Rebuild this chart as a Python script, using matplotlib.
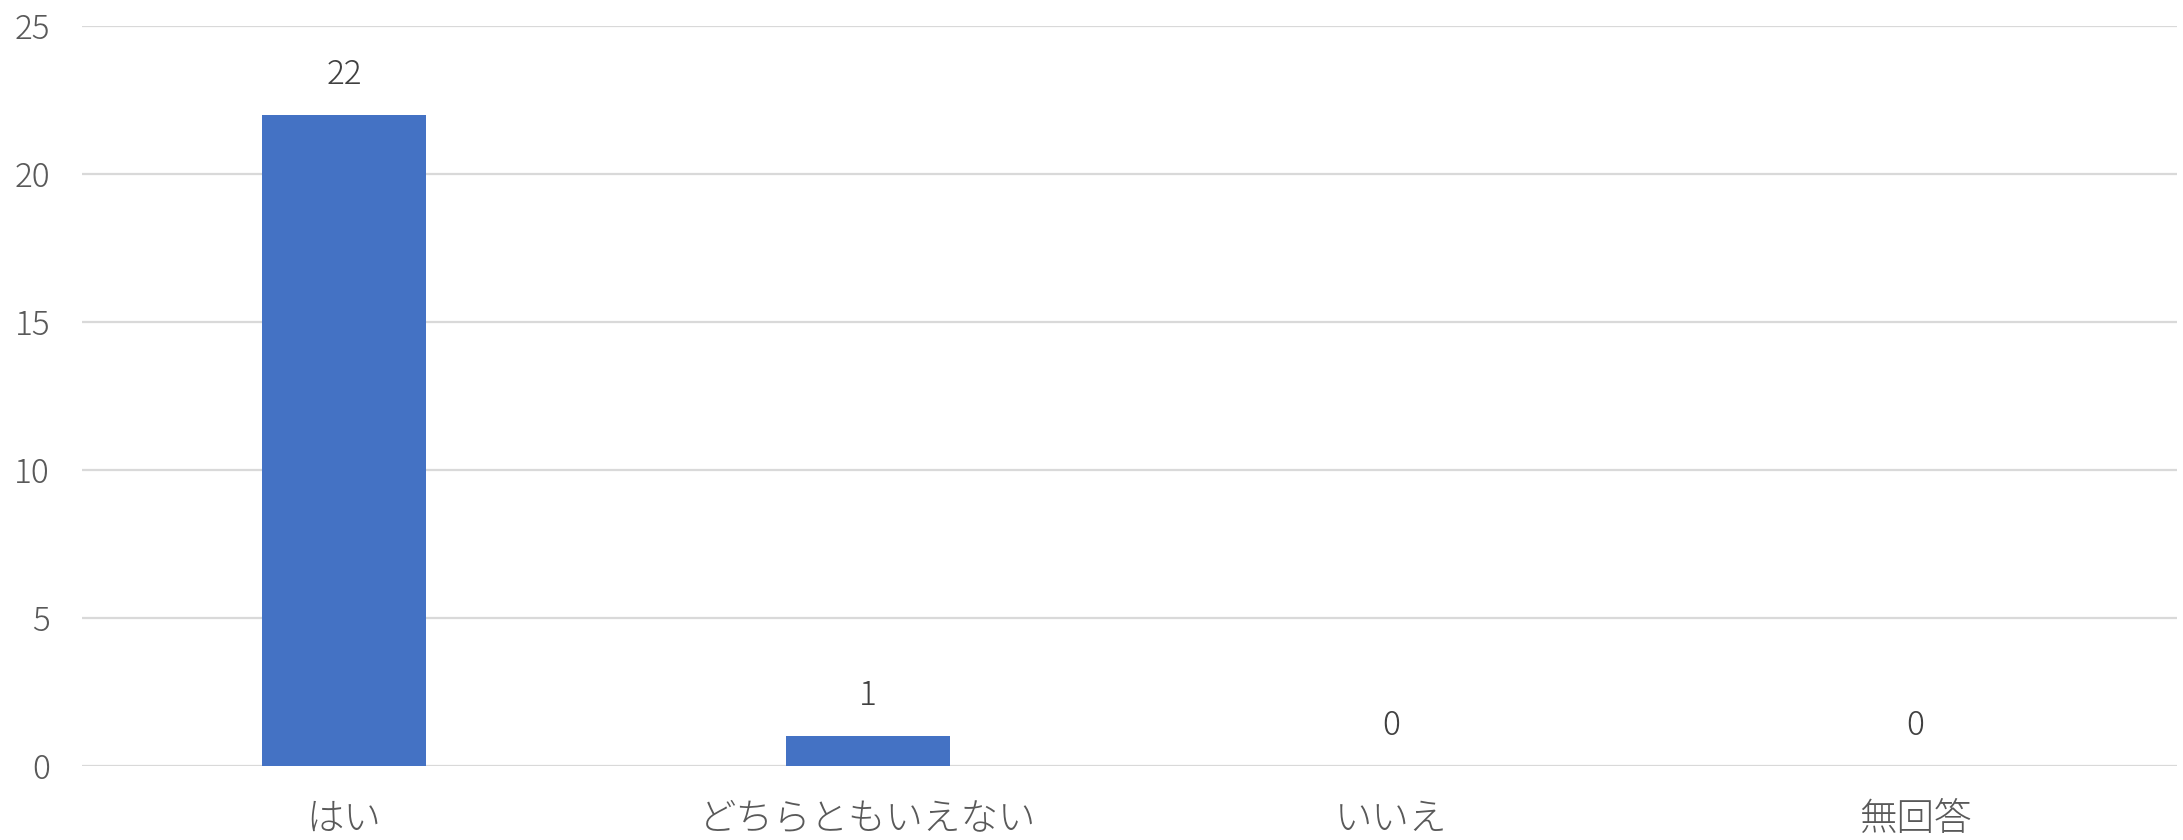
import matplotlib
matplotlib.use("Agg")
import matplotlib.pyplot as plt

categories = ["はい", "どちらともいえない", "いいえ", "無回答"]
values = [22, 1, 0, 0]
yticks = [0, 5, 10, 15, 20, 25]

plt.rcParams['font.family'] = ['Noto Sans CJK JP', 'DejaVu Sans']

fig = plt.figure(figsize=(21.83, 8.40), dpi=100)
ax = fig.add_axes([82/2183, 74/840, (2177-82)/2183, (766-26)/840])

x = list(range(len(categories)))
bars = ax.bar(x, values, width=0.313, color="#4472C4", zorder=3)

ax.set_xlim(-0.5, len(categories) - 0.5)
ax.set_ylim(0, 25)
ax.set_yticks(yticks)
ax.set_yticklabels([str(t) for t in yticks])
ax.set_xticks(x)
ax.set_xticklabels(categories)

ax.grid(axis='y', color="#d9d9d9", linewidth=1.6, zorder=0)
ax.set_axisbelow(True)
for s in ax.spines.values():
    s.set_visible(False)
ax.tick_params(axis='both', length=0, labelcolor="#595959")
ax.tick_params(axis='y', pad=23, labelsize=24)
ax.tick_params(axis='x', pad=24, labelsize=27)
for lab in ax.get_xticklabels() + ax.get_yticklabels():
    lab.set_fontweight('light')

for xi, v in zip(x, values):
    ax.annotate(str(v), (xi, v), xytext=(0, 29), textcoords='offset points',
                ha='center', va='center', fontsize=24, color="#404040",
                fontweight='light')

fig.savefig("out.png", dpi=100)
